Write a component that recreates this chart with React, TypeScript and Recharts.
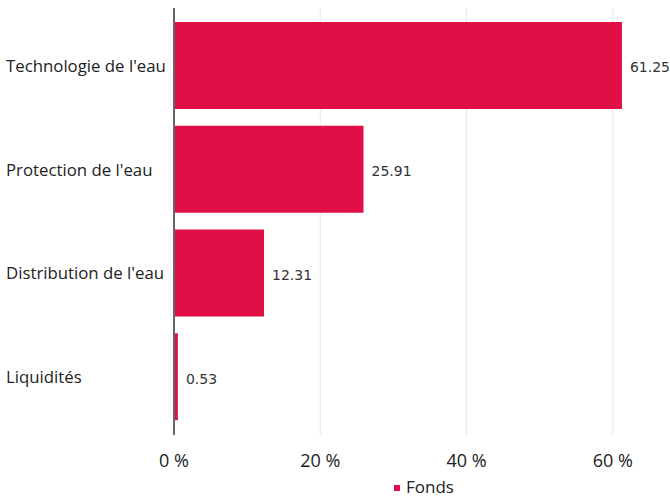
import React from "react";
import { Bar, BarChart, CartesianGrid, LabelList, Legend, XAxis, YAxis } from "recharts";

const categories = ["Technologie de l'eau", "Protection de l'eau", "Distribution de l'eau", "Liquidités"];
const fondsValues = [61.25, 25.91, 12.31, 0.53];
const xTicks = [0, 20, 40, 60];

const data = categories.map((name, i) => ({ name, fonds: fondsValues[i] }));

const RED = "#e20f47";
const FONT = "'Open Sans', sans-serif";

function CategoryTick({ y, payload }: any) {
  return (
    <text x={6} y={y} dy={6} textAnchor="start" fontSize={16.8} fontFamily={FONT} fill="#222">
      {payload.value}
    </text>
  );
}

function LegendBox() {
  return (
    <div style={{ display: "flex", justifyContent: "center", alignItems: "center", fontFamily: FONT, fontSize: 17, color: "#222" }}>
      <span style={{ width: 6, height: 6, background: RED, display: "inline-block", marginRight: 6, marginTop: 2 }} />
      <span>Fonds</span>
    </div>
  );
}

export default function App() {
  return (
    <div style={{ position: "absolute", left: 0, top: 0, background: "#fff" }}>
      <BarChart
        width={670}
        height={497}
        data={data}
        layout="vertical"
        margin={{ top: 8, right: 6, left: 0, bottom: 0 }}
      >
        <CartesianGrid horizontal={false} stroke="#e8e8e8" verticalValues={xTicks} />
        <XAxis
          type="number"
          domain={[0, 67]}
          ticks={xTicks}
          tickFormatter={(v: number) => `${v} %`}
          axisLine={false}
          tickLine={false}
          height={40}
          tickMargin={13}
          tick={{ fontSize: 18, fontFamily: FONT, fill: "#222" }}
        />
        <YAxis
          type="category"
          dataKey="name"
          width={174}
          padding={{ top: 6, bottom: 6 }}
          axisLine={{ stroke: "#666", strokeWidth: 2 }}
          tickLine={false}
          tick={<CategoryTick />}
        />
        <Legend
          verticalAlign="bottom"
          height={22}
          wrapperStyle={{ left: 174, width: 500 }}
          content={<LegendBox />}
        />
        <Bar dataKey="fonds" fill={RED} barSize={87} isAnimationActive={false}>
          <LabelList
            dataKey="fonds"
            position="right"
            offset={8}
            dy={2}
            formatter={(v: number) => v.toFixed(2)}
            style={{ fontSize: 14, fontFamily: "'DejaVu Sans', sans-serif", fill: "#333" }}
          />
        </Bar>
      </BarChart>
    </div>
  );
}
